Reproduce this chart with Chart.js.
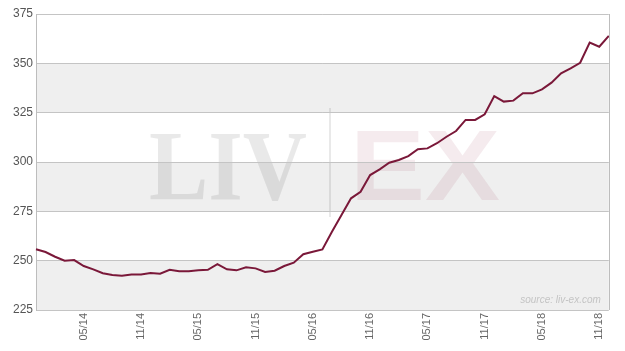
<!DOCTYPE html>
<html>
<head>
<meta charset="utf-8">
<script src="https://cdn.jsdelivr.net/npm/chart.js@4/dist/chart.umd.min.js"></script>
<style>
  html, body { margin: 0; padding: 0; background: #ffffff; }
  #wrap { width: 625px; height: 351px; position: relative; }
</style>
</head>
<body>
<div id="wrap"><canvas id="c" width="625" height="351"></canvas></div>
<script>
// Monthly index values, Dec 2013 .. Dec 2018
const months = [
  "12/13",
  "01/14","02/14","03/14","04/14","05/14","06/14","07/14","08/14","09/14","10/14","11/14","12/14",
  "01/15","02/15","03/15","04/15","05/15","06/15","07/15","08/15","09/15","10/15","11/15","12/15",
  "01/16","02/16","03/16","04/16","05/16","06/16","07/16","08/16","09/16","10/16","11/16","12/16",
  "01/17","02/17","03/17","04/17","05/17","06/17","07/17","08/17","09/17","10/17","11/17","12/17",
  "01/18","02/18","03/18","04/18","05/18","06/18","07/18","08/18","09/18","10/18","11/18","12/18"
];
const indexValues = [
  255.8,
  254.4, 252.0, 250.0, 250.3, 247.3, 245.6, 243.6, 242.7, 242.4, 243.0, 243.0, 243.7,
  243.4, 245.4, 244.6, 244.6, 245.1, 245.4, 248.2, 245.6, 245.1, 246.6, 246.1, 244.3,
  244.9, 247.3, 249.0, 253.3, 254.5, 255.7, 264.7, 273.1, 281.6, 284.9, 293.4, 296.3,
  299.6, 301.0, 303.0, 306.5, 306.9, 309.5, 312.8, 315.7, 321.3, 321.3, 324.2, 333.4,
  330.6, 331.1, 334.8, 334.8, 336.8, 340.2, 344.9, 347.5, 350.3, 360.5, 358.4, 363.9
];
const shownTickMonths = ["05", "11"];
const yTicks = [225, 250, 275, 300, 325, 350, 375];
const bandRanges = [[225, 250], [275, 300], [325, 350]];
const sourceText = "source: liv-ex.com";

const bgPlugin = {
  id: 'bg',
  beforeDraw(chart) {
    const { ctx, chartArea: a, scales: { y } } = chart;
    ctx.save();
    ctx.fillStyle = '#efefef';
    bandRanges.forEach(([lo, hi]) => {
      const y1 = y.getPixelForValue(hi), y2 = y.getPixelForValue(lo);
      ctx.fillRect(a.left, y1, a.right - a.left, y2 - y1);
    });
    // watermark
    ctx.textBaseline = 'alphabetic';
    ctx.textAlign = 'left';
    ctx.fillStyle = 'rgba(0,0,0,0.085)';
    ctx.font = 'bold 100px "Liberation Serif", "DejaVu Serif", serif';
    let w = ctx.measureText('LIV').width;
    ctx.save();
    ctx.translate(149, 199);
    ctx.scale(158 / w, 1);
    ctx.fillText('LIV', 0, 0);
    ctx.restore();
    ctx.fillRect(329, 108, 2, 109);
    ctx.fillStyle = 'rgba(140,30,70,0.09)';
    ctx.font = 'bold 100px "Liberation Sans", Arial, sans-serif';
    w = ctx.measureText('EX').width;
    ctx.save();
    ctx.translate(350, 200);
    ctx.scale(150 / w, 1);
    ctx.fillText('EX', 0, 0);
    ctx.restore();
    ctx.restore();
  },
  afterDraw(chart) {
    const { ctx, chartArea: a } = chart;
    ctx.save();
    ctx.strokeStyle = '#bdbdbd';
    ctx.lineWidth = 1;
    ctx.beginPath();
    ctx.moveTo(Math.round(a.right) + 0.5, a.top);
    ctx.lineTo(Math.round(a.right) + 0.5, a.bottom);
    ctx.stroke();
    ctx.fillStyle = '#c4c4c4';
    ctx.font = 'italic 10px "Liberation Sans", Arial, sans-serif';
    ctx.textAlign = 'right';
    ctx.textBaseline = 'alphabetic';
    ctx.fillText(sourceText, a.right - 8, a.bottom - 7);
    ctx.restore();
  }
};

new Chart(document.getElementById('c'), {
  type: 'line',
  data: {
    labels: months,
    datasets: [{
      data: indexValues,
      borderColor: '#7a1839',
      borderWidth: 2,
      pointRadius: 0,
      tension: 0,
      fill: false
    }]
  },
  options: {
    responsive: false,
    animation: false,
    devicePixelRatio: 1,
    layout: { padding: { top: 14, right: 11, left: 0, bottom: 0 } },
    plugins: { legend: { display: false }, tooltip: { enabled: false } },
    scales: {
      x: {
        offset: false,
        grid: { display: false, drawTicks: false },
        border: { display: false },
        ticks: {
          autoSkip: false,
          maxRotation: 90,
          minRotation: 90,
          padding: 3,
          color: '#666',
          font: { family: '"Liberation Sans", Arial, sans-serif', size: 11 },
          callback(v, i) {
            const l = months[i];
            return shownTickMonths.includes(l.slice(0, 2)) ? l : '';
          }
        },
        afterFit(s) { s.height = 41; }
      },
      y: {
        min: 225,
        max: 375,
        afterBuildTicks(s) { s.ticks = yTicks.map(v => ({ value: v })); },
        grid: { color: '#c4c4c4', drawTicks: false },
        border: { display: true, color: '#bdbdbd' },
        ticks: {
          padding: 3,
          color: '#555',
          font: { family: '"Liberation Sans", Arial, sans-serif', size: 12 }
        },
        afterFit(s) { s.width = 36; }
      }
    }
  },
  plugins: [bgPlugin]
});
</script>
</body>
</html>
